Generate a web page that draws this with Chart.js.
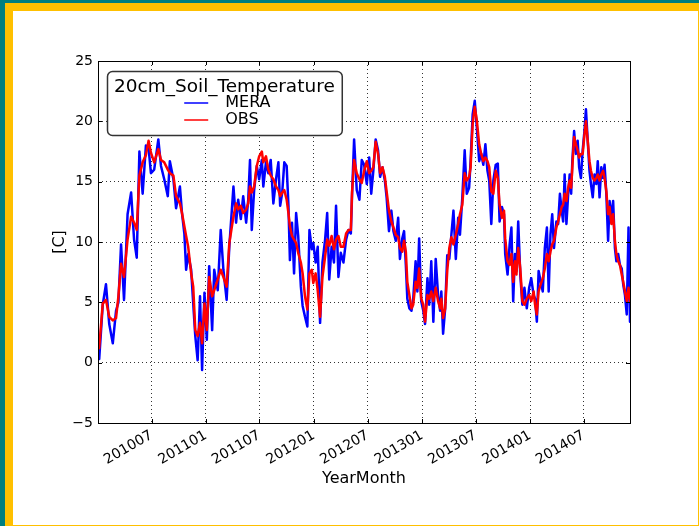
<!DOCTYPE html>
<html>
<head>
<meta charset="utf-8">
<script src="https://cdn.jsdelivr.net/npm/chart.js@4.4.0/dist/chart.umd.min.js"></script>
<style>
  body { margin: 0; }
  #edge { position: absolute; left: 0; top: 0; width: 699px; height: 526px; background: #007f7f; }
  #band { position: absolute; left: 5px; top: 3px; width: 694px; height: 523px; background: #ffc000; }
  #sheet { position: absolute; left: 13px; top: 11px; width: 685px; height: 514px; background: #fff; }
  #soilChart { position: absolute; left: 0; top: 0; }
</style>
</head>
<body>
<div id="edge"></div><div id="band"></div><div id="sheet"></div>
<canvas id="soilChart" width="699" height="526"></canvas>
<script>
// Soil temperature at 20 cm, days counted from 2010-01-01
const startYear = 2010;
const days = [
  0, 4, 16, 27, 38, 50, 61, 69, 78, 88, 100, 112, 122, 131, 140, 151, 162, 171, 179, 190,
  204, 213, 224, 236, 243, 255, 264, 277, 284, 292, 298, 305, 315, 322, 329, 337, 345, 352, 360, 368,
  376, 386, 393, 405, 415, 424, 435, 444,
  458, 467, 474, 483, 491, 501, 508, 514, 520, 528, 537, 545, 554, 559, 568, 576, 584, 593, 602, 610,
  616, 623, 630, 638, 644, 649, 656, 663, 670, 677, 686, 692, 700, 708, 715, 723, 728, 736, 743, 751,
  759, 768, 775, 782, 790, 798, 805, 813, 821, 830, 839, 847, 855, 859, 866, 875, 884, 892,
  900, 909, 917, 924, 931, 939, 947, 954, 962, 970, 976, 984, 992, 999, 1007, 1015, 1021, 1029, 1035, 1041,
  1046, 1053, 1060, 1066, 1074, 1080, 1086, 1093, 1100, 1106, 1114, 1120, 1127, 1134, 1142, 1150, 1157, 1161, 1167, 1174,
  1181, 1188, 1195, 1202, 1210, 1218, 1224, 1232, 1240, 1247, 1255, 1260, 1267, 1274, 1281, 1289, 1296, 1303, 1310, 1317,
  1323, 1330, 1337, 1345,
  1352, 1358, 1366, 1373, 1377, 1385, 1392, 1398, 1404, 1410, 1415, 1421, 1428, 1435, 1442, 1450, 1458, 1465, 1473, 1478,
  1484, 1490, 1497, 1504, 1511, 1518, 1524, 1530, 1536, 1542, 1550, 1556, 1562, 1568, 1573, 1578, 1584, 1590, 1595, 1600,
  1604, 1610, 1616, 1622, 1627, 1633, 1639, 1645, 1650, 1656, 1662, 1667, 1673, 1679, 1685, 1690, 1696, 1702, 1708, 1713,
  1719, 1725, 1730, 1736, 1742, 1748, 1753, 1759, 1765, 1771, 1776, 1782, 1788, 1794, 1799
];
const mera = [
  1.8, 0.3, 4.8, 6.5, 3.2, 1.6, 4.3, 5.0, 9.8, 5.2, 12.3, 14.1, 10.2, 8.7, 17.5, 14.0, 18.0, 17.8, 15.7, 16.0,
  18.5, 16.3, 15.2, 13.8, 16.7, 15.2, 12.8, 14.6, 12.4, 10.7, 7.7, 9.0, 7.7, 4.9, 2.2, 0.2, 5.5, -0.6, 5.8, 1.9,
  8.0, 2.7, 7.7, 6.0, 11.0, 7.7, 5.2, 9.6,
  14.6, 11.6, 13.5, 11.9, 13.8, 11.6, 13.5, 16.8, 11.0, 14.3, 16.3, 15.2, 16.8, 14.6, 16.6, 15.7, 16.8, 13.2, 15.2, 16.6,
  13.0, 14.1, 16.6, 16.3, 13.0, 8.5, 11.6, 7.4, 12.4, 10.5, 6.3, 4.7, 3.8, 3.0, 11.0, 9.4, 9.9, 8.3, 9.6, 3.3,
  8.3, 10.2, 12.4, 6.9, 9.6, 8.3, 13.0, 7.1, 9.1, 8.3, 10.2, 11.0, 10.7, 13.8, 18.5, 14.3, 13.5, 16.8,
  16.4, 14.8, 17.0, 14.0, 15.9, 18.5, 17.6, 15.4, 16.2, 15.1, 13.7, 10.9, 12.6, 10.9, 10.1, 12.0, 8.6, 10.3, 10.9, 8.1,
  5.3, 4.5, 4.3, 5.3, 8.4, 5.9, 10.3, 5.1, 4.3, 3.2, 7.0, 4.8, 8.4, 3.4, 8.6, 5.6, 4.3, 5.9, 2.4, 4.5,
  8.9, 8.6, 10.6, 12.6, 8.6, 12.0, 10.6, 13.7, 17.6, 14.0, 14.5, 16.7, 20.6, 21.7, 19.5, 16.7, 17.3, 16.4, 18.1, 15.9,
  15.1, 11.5, 15.1, 16.4,
  16.5, 11.7, 12.9, 12.3, 9.0, 7.3, 9.8, 11.2, 5.1, 9.0, 7.6, 11.7, 7.3, 4.8, 6.2, 4.5, 6.2, 7.0, 5.6, 5.3,
  3.4, 7.6, 6.7, 5.9, 9.5, 11.2, 5.9, 10.6, 12.3, 9.5, 11.7, 11.5, 14.0, 12.6, 11.7, 15.6, 11.5, 14.0, 15.6, 14.0,
  16.7, 19.2, 17.3, 18.4, 16.2, 15.3, 17.6, 19.2, 21.0, 18.4, 15.9, 14.8, 13.7, 15.6, 14.8, 16.7, 13.7, 16.2, 15.3, 16.4,
  14.0, 10.1, 13.4, 12.0, 13.4, 9.5, 8.4, 9.0, 8.1, 7.8, 6.5, 5.6, 4.0, 11.2, 3.4
];
const obs = [
  1.9, 1.2, 4.9, 5.2, 3.8, 3.5, 3.7, 5.5, 8.2, 7.1, 10.2, 12.1, 11.6, 11.0, 15.5, 16.6, 17.2, 18.4, 17.4, 16.6,
  17.7, 16.8, 16.6, 16.0, 15.7, 15.5, 13.8, 13.2, 12.4, 11.3, 10.5, 9.6, 7.4, 6.3, 2.7, 2.2, 3.3, 1.6, 4.9, 2.7,
  7.1, 5.5, 6.0, 6.9, 7.7, 7.1, 6.3, 9.9,
  12.1, 13.2, 12.7, 13.0, 12.4, 12.7, 13.2, 14.6, 14.1, 14.6, 16.3, 17.1, 17.5, 16.6, 17.1, 16.0, 15.5, 15.2, 14.6, 14.3,
  13.8, 14.1, 14.3, 13.5, 12.4, 11.3, 10.5, 10.2, 9.9, 9.1, 8.3, 7.4, 5.5, 4.4, 7.4, 7.7, 6.6, 7.4, 6.0, 3.8,
  7.1, 8.8, 10.2, 9.7, 10.5, 9.4, 10.2, 10.5, 9.6, 9.6, 10.7, 11.0, 11.0, 14.1, 16.8, 15.7, 15.2, 14.9,
  15.9, 16.7, 15.7, 15.9, 16.2, 18.3, 17.3, 15.7, 16.2, 15.4, 14.2, 12.6, 11.7, 11.2, 10.6, 10.4, 9.5, 9.2, 10.1, 9.2,
  6.7, 5.6, 4.5, 4.8, 6.7, 6.2, 7.8, 5.3, 4.8, 3.4, 5.6, 5.3, 5.9, 5.1, 6.2, 5.1, 4.5, 5.3, 3.7, 4.5,
  7.6, 9.5, 10.4, 9.8, 10.6, 11.5, 12.3, 13.1, 15.7, 15.1, 15.4, 16.2, 19.8, 21.2, 20.1, 18.1, 17.3, 16.7, 17.0, 16.7,
  16.2, 14.2, 14.0, 15.9,
  15.3, 13.1, 12.0, 12.6, 10.3, 8.4, 8.1, 9.0, 6.7, 8.4, 7.3, 9.5, 7.8, 5.1, 4.8, 5.3, 5.6, 5.1, 5.9, 4.8,
  4.0, 5.9, 6.5, 7.0, 7.8, 9.0, 8.4, 9.2, 9.8, 10.1, 11.2, 11.7, 12.3, 12.9, 13.1, 14.0, 13.4, 14.5, 15.1, 14.5,
  16.2, 18.7, 18.1, 17.6, 17.0, 17.3, 17.3, 18.9, 20.0, 18.4, 16.7, 15.9, 15.3, 15.1, 15.3, 15.6, 15.1, 15.6, 15.9, 15.3,
  14.2, 12.3, 12.9, 11.5, 12.3, 10.1, 9.0, 8.4, 8.1, 7.3, 6.7, 5.9, 5.1, 6.2, 5.1
];
const tickLabels = ['201007', '201101', '201107', '201201', '201207', '201301', '201307', '201401', '201407'];
const yTicks = [-5, 0, 5, 10, 15, 20, 25];
const xEnd = 1799;

// "201307" -> days since startYear-01-01
function dayOf(label) {
  const y = +label.slice(0, 4), m = +label.slice(4) - 1;
  return (Date.UTC(y, m, 1) - Date.UTC(startYear, 0, 1)) / 86400000;
}
const tickDays = tickLabels.map(dayOf);

Chart.defaults.font.family = '"DejaVu Sans", sans-serif';
Chart.defaults.color = '#000';

// inward tick marks on all four sides and the frame round the axes
const frameTicks = {
  id: 'frameTicks',
  afterDatasetsDraw(chart) {
    const {ctx, chartArea: a, scales: {x, y}} = chart;
    ctx.save();
    ctx.strokeStyle = '#000';
    ctx.lineWidth = 1;
    ctx.beginPath();
    x.ticks.forEach(t => {
      const px = Math.round(x.getPixelForValue(t.value)) + 0.5;
      ctx.moveTo(px, a.bottom); ctx.lineTo(px, a.bottom - 4);
      ctx.moveTo(px, a.top); ctx.lineTo(px, a.top + 4);
    });
    y.ticks.forEach(t => {
      const py = Math.round(y.getPixelForValue(t.value)) + 0.5;
      ctx.moveTo(a.left, py); ctx.lineTo(a.left + 4, py);
      ctx.moveTo(a.right, py); ctx.lineTo(a.right - 4, py);
    });
    ctx.stroke();
    ctx.strokeRect(Math.round(a.left) + 0.5, Math.round(a.top) + 0.5,
                   Math.round(a.right - a.left), Math.round(a.bottom - a.top));
    ctx.restore();
  }
};

// matplotlib-like legend box with a title, placed inside the plot
const boxLegend = {
  id: 'boxLegend',
  afterDraw(chart, args, opts) {
    const {ctx, chartArea: a} = chart;
    const left = a.left + 9, top = a.top + 10;
    ctx.save();
    ctx.font = '18.5px "DejaVu Sans"';
    const w = ctx.measureText(opts.title).width + 14, h = 64;
    ctx.beginPath();
    ctx.roundRect(left + 0.5, top + 0.5, w, h, 5);
    ctx.fillStyle = '#fff';
    ctx.fill();
    ctx.strokeStyle = '#333';
    ctx.lineWidth = 1.5;
    ctx.stroke();
    ctx.fillStyle = '#000';
    ctx.textAlign = 'center';
    ctx.textBaseline = 'alphabetic';
    ctx.fillText(opts.title, left + w / 2, top + 21);

    ctx.font = '16px "DejaVu Sans"';
    ctx.textAlign = 'left';
    ctx.textBaseline = 'middle';
    const sets = chart.data.datasets;
    const textW = Math.max(...sets.map(d => ctx.measureText(d.label).width));
    const x0 = left + w / 2 - (41 + textW) / 2 + 3;
    sets.forEach((d, i) => {
      const yy = top + 32 + i * 17;
      ctx.strokeStyle = d.borderColor;
      ctx.lineWidth = 1.5;
      ctx.beginPath();
      ctx.moveTo(x0, yy);
      ctx.lineTo(x0 + 24, yy);
      ctx.stroke();
      ctx.fillText(d.label, x0 + 41, yy);
    });
    ctx.restore();
  }
};

const ctx = document.getElementById('soilChart').getContext('2d');
new Chart(ctx, {
  type: 'line',
  data: {
    datasets: [
      {
        label: 'MERA',
        data: days.map((d, i) => ({x: d, y: mera[i]})),
        borderColor: '#0000ff',
        borderWidth: 2.5,
        borderJoinStyle: 'round',
        borderCapStyle: 'round',
        pointRadius: 0,
        order: 2
      },
      {
        label: 'OBS',
        data: days.map((d, i) => ({x: d, y: obs[i]})),
        borderColor: '#ff0000',
        borderWidth: 2.5,
        borderJoinStyle: 'round',
        borderCapStyle: 'round',
        pointRadius: 0,
        order: 1
      }
    ]
  },
  options: {
    responsive: false,
    animation: false,
    devicePixelRatio: 1,
    layout: { padding: { top: 61, right: 69, left: 0, bottom: 0 } },
    plugins: {
      legend: { display: false },
      tooltip: { enabled: false },
      boxLegend: { title: '20cm_Soil_Temperature' }
    },
    scales: {
      x: {
        type: 'linear',
        min: 0,
        max: xEnd,
        afterBuildTicks: s => { s.ticks = tickDays.map(v => ({value: v})); },
        afterFit: s => { s.height = 103; },
        ticks: {
          callback: (v, i) => tickLabels[i],
          font: { size: 14 },
          minRotation: 30,
          maxRotation: 30,
          padding: 4
        },
        grid: { color: 'rgba(0,0,0,0.8)', lineWidth: 1, drawTicks: false },
        border: { display: false, dash: [1, 3] },
        title: { display: true, text: 'YearMonth', font: { size: 16 }, padding: { top: 0, bottom: 38 } }
      },
      y: {
        min: -5,
        max: 25,
        afterBuildTicks: s => { s.ticks = yTicks.map(v => ({value: v})); },
        afterFit: s => { s.width = 98; },
        ticks: {
          callback: v => (v < 0 ? '\u2212' + Math.abs(v) : String(v)),
          font: { size: 14 },
          padding: 5
        },
        grid: { color: 'rgba(0,0,0,0.8)', lineWidth: 1, drawTicks: false },
        border: { display: false, dash: [1, 3] },
        title: { display: true, text: '[C]', font: { size: 16 }, padding: { top: 50, bottom: 0 } }
      }
    }
  },
  plugins: [frameTicks, boxLegend]
});
</script>
</body>
</html>
